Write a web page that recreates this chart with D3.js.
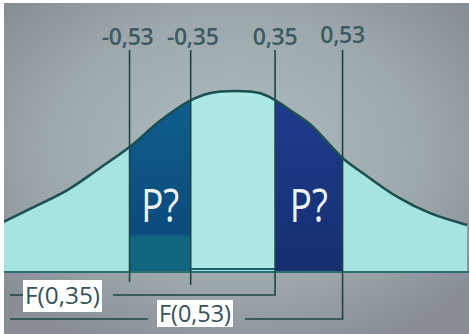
<!DOCTYPE html>
<html><head><meta charset="utf-8">
<script src="https://cdn.jsdelivr.net/npm/d3@7"></script>
<style>html,body{margin:0;padding:0;background:#fff;overflow:hidden}svg{display:block}</style>
</head><body>
<script>
// Normal curve (x in standard deviations, y = density)
const curveU = [-2.2, -1.92, -1.59, -1.28, -1.0, -0.71, -0.43, -0.24, 0, 0.24, 0.38, 0.52, 0.71, 1.02, 1.21, 1.54, 1.85, 2.2];
const curveDensity = [0.110, 0.142, 0.181, 0.230, 0.276, 0.334, 0.378, 0.395, 0.400, 0.395, 0.380, 0.358, 0.327, 0.252, 0.219, 0.166, 0.130, 0.104];
// Tick values and their labels
const tickValues = [-0.53, -0.35, 0.35, 0.53];
const tickLabels = ["-0,53", "-0,35", "0,35", "0,53"];
// where each tick sits on the (schematic) curve, in standard deviations
const tickU = [-1.0, -0.42, 0.38, 1.02];
// Probability areas and cumulative labels
const regionLabels = ["P?", "P?"];
const cdfLabels = ["F(0,35)", "F(0,53)"];

const W = 469, H = 334;
const svg = d3.select("body").append("svg").attr("width", W).attr("height", H);
const defs = svg.append("defs");

const bg = defs.append("radialGradient").attr("id", "bg").attr("cx", "50%").attr("cy", "45%").attr("r", "65%");
bg.append("stop").attr("offset", "0%").attr("stop-color", "#adbcbf");
bg.append("stop").attr("offset", "60%").attr("stop-color", "#9ea9ad");
bg.append("stop").attr("offset", "100%").attr("stop-color", "#888d96");

const gL = defs.append("linearGradient").attr("id", "gL").attr("x1", 0).attr("y1", 0).attr("x2", 0).attr("y2", 1);
gL.append("stop").attr("offset", "0%").attr("stop-color", "#0e5f8f");
gL.append("stop").attr("offset", "79%").attr("stop-color", "#0c4b7d");
gL.append("stop").attr("offset", "81%").attr("stop-color", "#10667f");
gL.append("stop").attr("offset", "100%").attr("stop-color", "#10667f");
const gR = defs.append("linearGradient").attr("id", "gR").attr("x1", 0).attr("y1", 0).attr("x2", 0).attr("y2", 1);
gR.append("stop").attr("offset", "0%").attr("stop-color", "#1e3d8e");
gR.append("stop").attr("offset", "100%").attr("stop-color", "#152f70");

svg.append("rect").attr("width", W).attr("height", H).attr("fill", "url(#bg)");

const x = d3.scaleLinear().domain([-2.2, 2.2]).range([3, 467]);
const y = d3.scaleLinear().domain([0, 0.4]).range([272, 91]);
const tickToU = d3.scaleLinear().domain(tickValues).range(tickU);
const tx = v => x(tickToU(v));

const pts = curveU.map((u, i) => ({u, d: curveDensity[i]}));
const curve = d3.curveCatmullRom.alpha(0.5);
const area = d3.area().x(d => x(d.u)).y0(y(0)).y1(d => y(d.d)).curve(curve);
const line = d3.line().x(d => x(d.u)).y(d => y(d.d)).curve(curve);

defs.append("clipPath").attr("id", "clipA").append("path").attr("d", area(pts));

svg.append("path").attr("d", area(pts)).attr("fill", "#a6e5df");

const g = svg.append("g").attr("clip-path", "url(#clipA)");
// centre region
g.append("rect").attr("x", tx(-0.35)).attr("width", tx(0.35) - tx(-0.35))
  .attr("y", y(0.4) - 2).attr("height", y(0) - y(0.4) - 1).attr("fill", "#ade9e4");
g.append("line").attr("x1", tx(-0.35)).attr("x2", tx(0.35)).attr("y1", y(0) - 3).attr("y2", y(0) - 3)
  .attr("stroke", "#1d5f66").attr("stroke-width", 2);
// shaded probability bars
const bars = [[tickValues[0], tickValues[1], "url(#gL)"], [tickValues[2], tickValues[3], "url(#gR)"]];
bars.forEach(([a, b, f]) => {
  g.append("rect").attr("x", tx(a)).attr("width", tx(b) - tx(a))
    .attr("y", y(0.4) - 2).attr("height", y(0) - y(0.4) + 2).attr("fill", f);
});

// curve outline
svg.append("path").attr("d", line(pts)).attr("fill", "none").attr("stroke", "#1b4f52").attr("stroke-width", 2.5);
// baseline
svg.append("line").attr("x1", 0).attr("x2", W).attr("y1", y(0)).attr("y2", y(0))
  .attr("stroke", "#2b6f70").attr("stroke-width", 2);

// P? labels
bars.forEach(([a, b], i) => {
  svg.append("text").attr("x", (tx(a) + tx(b)) / 2).attr("y", 222)
    .attr("text-anchor", "middle").attr("font-family", "Open Sans").attr("font-size", 46)
    .attr("fill", "#eef4f4").attr("textLength", 38).attr("lengthAdjust", "spacingAndGlyphs")
    .text(regionLabels[i]);
});

// vertical tick lines
const lineBottoms = [282, 285, 295, 319];
tickValues.forEach((v, i) => {
  svg.append("line").attr("x1", tx(v)).attr("x2", tx(v)).attr("y1", 50).attr("y2", lineBottoms[i])
    .attr("stroke", "#1f4446").attr("stroke-width", 1.6);
  svg.append("text").attr("x", tx(v) + (i === 0 ? -2 : i === 1 ? 2 : 0)).attr("y", i === 3 ? 43 : 45)
    .attr("text-anchor", "middle").attr("font-family", "Open Sans").attr("font-weight", 600)
    .attr("font-size", 23).attr("fill", "#3b5a61").attr("letter-spacing", -0.3).text(tickLabels[i]);
});

// cumulative labels with leader lines
const cdf = [
  {label: cdfLabels[0], v: 0.35, ly: 295, bx: 23, bw: 79, by: 280, bh: 32, gapL: 0, gapR: 11},
  {label: cdfLabels[1], v: 0.53, ly: 319, bx: 157, bw: 76, by: 300, bh: 27, gapL: 9, gapR: 12}
];
cdf.forEach(c => {
  svg.append("line").attr("x1", 10).attr("x2", c.bx - c.gapL).attr("y1", c.ly).attr("y2", c.ly)
    .attr("stroke", "#1f4446").attr("stroke-width", 1.6);
  svg.append("line").attr("x1", c.bx + c.bw + c.gapR).attr("x2", tx(c.v) + 0.8).attr("y1", c.ly).attr("y2", c.ly)
    .attr("stroke", "#1f4446").attr("stroke-width", 1.6);
  svg.append("rect").attr("x", c.bx).attr("y", c.by).attr("width", c.bw).attr("height", c.bh).attr("fill", "#ffffff");
  svg.append("text").attr("x", c.bx + c.bw / 2).attr("y", c.by + c.bh / 2 + 8)
    .attr("text-anchor", "middle").attr("font-family", "Open Sans").attr("font-size", 23)
    .attr("fill", "#37525a").attr("textLength", c.bw - 4).attr("lengthAdjust", "spacingAndGlyphs").text(c.label);
});

// white frame edges
svg.append("rect").attr("x", 0).attr("y", 0).attr("width", 4).attr("height", H).attr("fill", "#fff");
svg.append("rect").attr("x", 0).attr("y", 0).attr("width", W).attr("height", 3).attr("fill", "#fff");
</script>
</body></html>
